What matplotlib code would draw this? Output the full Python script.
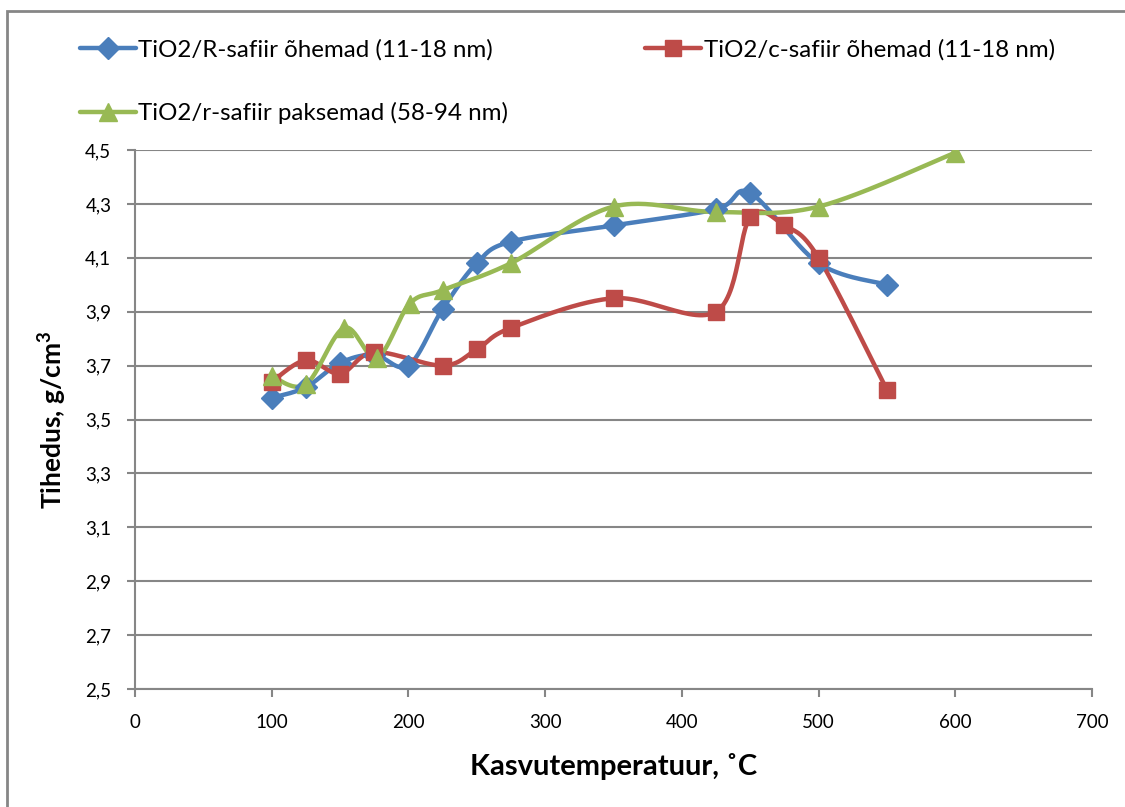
import numpy as np
import matplotlib
matplotlib.use("Agg")
import matplotlib.pyplot as plt
from matplotlib.ticker import FuncFormatter
from matplotlib.patches import Rectangle

# ---- data ----
blue_x = [100, 125, 150, 175, 200, 225, 250, 275, 350, 425, 450, 500, 550]
blue_y = [3.58, 3.62, 3.71, 3.74, 3.70, 3.91, 4.08, 4.16, 4.22, 4.28, 4.34, 4.08, 4.00]
red_x = [100, 125, 150, 175, 225, 250, 275, 350, 425, 450, 475, 500, 550]
red_y = [3.64, 3.72, 3.67, 3.75, 3.70, 3.76, 3.84, 3.95, 3.90, 4.25, 4.22, 4.10, 3.61]
green_x = [100, 125, 153, 177, 201, 225, 275, 350, 425, 500, 600]
green_y = [3.66, 3.63, 3.84, 3.73, 3.93, 3.98, 4.08, 4.29, 4.27, 4.29, 4.49]

labels = ["TiO2/R-safiir õhemad (11-18 nm)",
          "TiO2/c-safiir õhemad (11-18 nm)",
          "TiO2/r-safiir paksemad (58-94 nm)"]
colors = ["#4A7EBB", "#BE4B48", "#98B954"]
x_ticks = [0, 100, 200, 300, 400, 500, 600, 700]
y_ticks = [2.5, 2.7, 2.9, 3.1, 3.3, 3.5, 3.7, 3.9, 4.1, 4.3, 4.5]
xlabel = "Kasvutemperatuur, ˚C"
ylabel = "Tihedus, g/cm$^\\mathbf{3}$"

plt.rcParams['font.family'] = ['Lato', 'DejaVu Sans']
plt.rcParams['mathtext.fontset'] = 'custom'
plt.rcParams['mathtext.bf'] = 'Lato:bold'


def smooth(xs, ys, n=30):
    # Catmull-Rom style Bezier smoothing (like Excel smoothed lines)
    xs = np.asarray(xs, float)
    ys = np.asarray(ys, float)
    sx, sy = 957 / 700.0, 539 / 2.0
    P = np.column_stack([xs * sx, ys * sy])
    out = [P[0]]
    m = len(P)
    for i in range(m - 1):
        p0 = P[i - 1] if i > 0 else P[i]
        p1 = P[i]
        p2 = P[i + 1]
        p3 = P[i + 2] if i + 2 < m else P[i + 1]
        c1 = p1 + (p2 - p0) / 6.0
        c2 = p2 - (p3 - p1) / 6.0
        t = np.linspace(0, 1, n)[1:, None]
        b = ((1 - t) ** 3) * p1 + 3 * ((1 - t) ** 2) * t * c1 + 3 * (1 - t) * t ** 2 * c2 + t ** 3 * p2
        out.extend(b)
    out = np.array(out)
    return out[:, 0] / sx, out[:, 1] / sy


fig = plt.figure(figsize=(11.25, 8.07), dpi=100)
ax = fig.add_axes([135 / 1125, 1 - 689 / 807, 957 / 1125, 539 / 807])

series = [(blue_x, blue_y, 'D', 11), (red_x, red_y, 's', 12), (green_x, green_y, '^', 13)]
handles = []
for (xs, ys, mk, ms), c, lab in zip(series, colors, labels):
    sxv, syv = smooth(xs, ys)
    ax.plot(sxv, syv, color=c, lw=3.2, solid_capstyle='round', zorder=3)
    ax.plot(xs, ys, linestyle='none', marker=mk, ms=ms, color=c, mec=c, zorder=4)
    h, = ax.plot([], [], color=c, lw=3.2, marker=mk, ms=ms, mec=c, solid_capstyle='round')
    handles.append(h)

ax.set_xlim(0, 700)
ax.set_ylim(2.5, 4.5)
ax.set_xticks(x_ticks)
ax.set_yticks(y_ticks)
ax.yaxis.set_major_formatter(FuncFormatter(lambda v, p: f"{v:.1f}".replace('.', ',')))
ax.xaxis.set_major_formatter(FuncFormatter(lambda v, p: f"{v:.0f}"))
ax.grid(axis='y', color='#868686', lw=1.5, zorder=0)
ax.set_axisbelow(True)
for s in ['top', 'right']:
    ax.spines[s].set_visible(False)
for s in ['left', 'bottom']:
    ax.spines[s].set_color('#868686')
    ax.spines[s].set_linewidth(1.5)
ax.tick_params(axis='both', colors='#868686', labelcolor='black', labelsize=13.5,
               length=6, width=1.5, direction='out')
ax.tick_params(axis='x', pad=12)
ax.tick_params(axis='y', pad=11)
ax.set_xlabel(xlabel, fontsize=21, fontweight='bold', labelpad=16)
ax.set_ylabel(ylabel, fontsize=19, fontweight='bold', labelpad=12)

leg = fig.legend([handles[0], handles[2], handles[1]],
                 [labels[0], labels[2], labels[1]],
                 ncol=2, loc='upper left', bbox_to_anchor=(80 / 1125, 1 - 39 / 807),
                 frameon=False, fontsize=17.4, handlelength=2.3, handletextpad=0.12,
                 columnspacing=5.65, labelspacing=1.72, borderaxespad=0, borderpad=0)

# chart border (cropped on right and bottom)
fig.add_artist(Rectangle((7 / 1125, -0.1), 1.2, 1 - 11 / 807 + 0.1, transform=fig.transFigure,
                         fill=False, ec='#868686', lw=2))

fig.savefig("out.png", dpi=100)
